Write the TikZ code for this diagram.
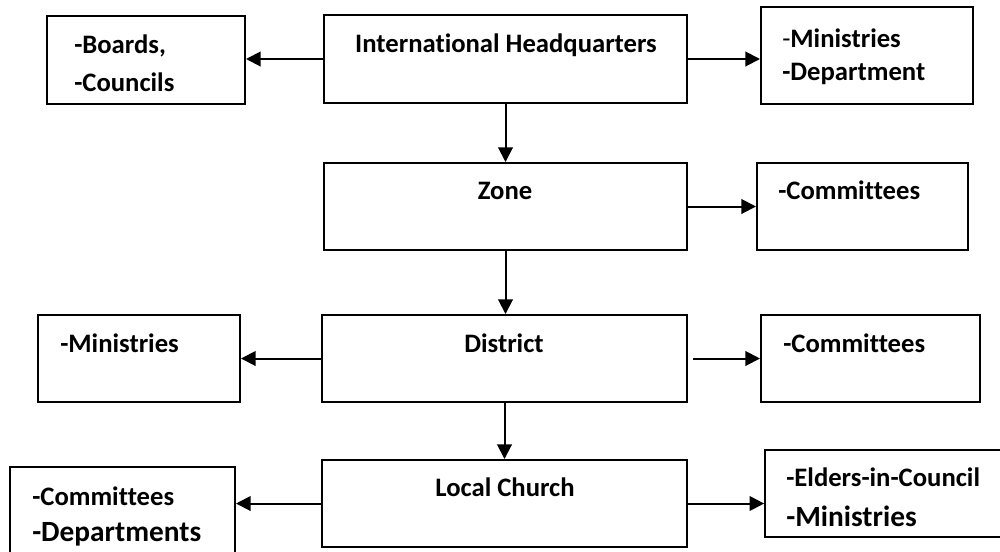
\documentclass[tikz,border=0pt]{standalone}
\usepackage{fontspec}
\setmainfont{Carlito}[Ligatures=NoCommon]
\usepackage{tikz}
\usetikzlibrary{arrows.meta}

\tikzset{
  box/.style={draw, line width=1.5pt, rectangle, inner sep=0pt},
  txt/.style={inner sep=0pt, font=\fontsize{20}{24}\selectfont\bfseries},
  bigtxt/.style={inner sep=0pt, font=\fontsize{22}{26}\selectfont\bfseries},
  arr/.style={line width=1.5pt, -{Triangle[length=11pt,width=11pt]}}
}

\begin{document}
\begin{tikzpicture}[x=0.75pt,y=0.75pt,yscale=-1,xscale=1]

\useasboundingbox (0,0) rectangle (1000,551);
\clip (0,0) rectangle (1000,551);

% boxes
\node[box, minimum width=148.5pt, minimum height=66pt] (boards) at (146,60) {};
\node[box, minimum width=272.25pt, minimum height=66pt] (hq) at (505.5,59) {};
\node[box, minimum width=159pt, minimum height=72.75pt] (mindep) at (867,55.5) {};

\node[box, minimum width=272.25pt, minimum height=65.25pt] (zone) at (505.5,206.5) {};
\node[box, minimum width=158.25pt, minimum height=65.25pt] (zonecom) at (862.5,206.5) {};

\node[box, minimum width=151.5pt, minimum height=65.25pt] (distmin) at (139,358.5) {};
\node[box, minimum width=273.75pt, minimum height=65.25pt] (district) at (504.5,358.5) {};
\node[box, minimum width=164.25pt, minimum height=65.25pt] (distcom) at (870.5,358.5) {};

\node[box, minimum width=168.75pt, minimum height=80pt] (localcom) at (122.5,520) {};
\node[box, minimum width=273.75pt, minimum height=65.25pt] (local) at (504.5,503.5) {};
\node[box, minimum width=200pt, minimum height=65.25pt] (elders) at (898.5,493.5) {};

% texts
\node[txt, anchor=base west] (boardsa) at (74,53) {-Boards,};
\node[txt, anchor=base west] (boardsb) at (74,91) {-Councils};
\node[txt, anchor=base] (hqtxt) at (506,52) {International Headquarters};
\node[txt, anchor=base west] (mindepa) at (782,47) {{\mdseries -}Ministries};
\node[txt, anchor=base west] (mindepb) at (782,80) {-Department};

\node[txt, anchor=base] (zonetxt) at (505,199) {Zone};
\node[txt, anchor=base west] (zonecomtxt) at (778,199) {-Committees};

\node[txt, anchor=base west] (distmintxt) at (60,352) {-Ministries};
\node[txt, anchor=base] (disttxt) at (504,352) {District};
\node[txt, anchor=base west] (distcomtxt) at (783,352) {-Committees};

\node[txt, anchor=base west] (localcoma) at (32,505) {-Committees};
\node[bigtxt, anchor=base west] (localcomb) at (32,541) {-Departments};
\node[txt, anchor=base] (localtxt) at (505,496) {Local Church};
\node[txt, anchor=base west] (eldersa) at (786,486) {-Elders-in-Council};
\node[bigtxt, anchor=base west] (eldersb) at (786,526) {-Ministries};

% connectors
\draw[arr] (hq.west) -- (hq.west -| boards.east);
\draw[arr] (hq.east) -- (hq.east -| mindep.west);
\draw[arr] (hq.south) -- (zone.north);

\draw[arr] (zone.east) -- (zone.east -| zonecom.west);
\draw[arr] (zone.south) -- (zone.south |- district.north);

\draw[arr] (district.west) -- (district.west -| distmin.east);
\draw[arr, shorten <=3.75pt] (district.east) -- (district.east -| distcom.west);
\draw[arr] (district.south) -- (district.south |- local.north);

\draw[arr] (local.west) -- (localcom.east |- local.west);
\draw[arr] (local.east) -- (local.east -| elders.west);

\end{tikzpicture}
\end{document}
